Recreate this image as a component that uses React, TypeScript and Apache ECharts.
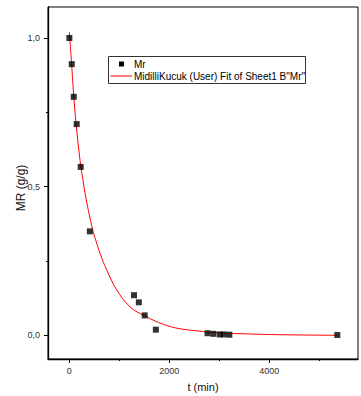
import React, { useEffect, useRef } from "react";
import * as echarts from "echarts";

// Measured data (t in min, MR in g/g)
const tMr = [0, 48, 88, 147, 227, 410, 1293, 1390, 1507, 1730, 2763, 2880, 3007, 3087, 3200, 5360];
const mrValues = [1.0, 0.912, 0.802, 0.71, 0.566, 0.349, 0.134, 0.11, 0.066, 0.018, 0.006, 0.004, 0.002, 0.002, 0.001, 0.0];

// Fit curve
const tFit = [0, 48, 90, 147, 227, 260, 333, 467, 527, 613, 747, 947, 1213, 1513, 1880, 2213, 2613, 2880, 3500, 4213, 5360];
const mrFit = [1.02, 0.905, 0.8, 0.69, 0.57, 0.535, 0.46, 0.354, 0.32, 0.275, 0.219, 0.152, 0.095, 0.064, 0.036, 0.021, 0.013, 0.008, 0.004, 0.001, -0.001];

const xMajor = [0, 2000, 4000];
const xMinor = [1000, 3000, 5000];
const yMajor = [0, 0.5, 1.0];
const yMinor = [0.25, 0.75];

const legendNames = ["Mr", 'MidilliKucuk (User) Fit of Sheet1 B"Mr"'];
const xTitle = "t (min)";
const yTitle = "MR (g/g)";

const FONT = "'Liberation Sans', Arial, sans-serif";

export default function App() {
  const ref = useRef<HTMLDivElement>(null);
  useEffect(() => {
    if (!ref.current) return;
    const chart = echarts.init(ref.current, null, { renderer: "svg" });
    const xMin = -427, xMax = 5773, yMin = -0.0808, yMax = 1.1044;
    const axisLineStyle = { color: "#000", width: 1.3 };
    chart.setOption({
      animation: false,
      backgroundColor: "#fff",
      textStyle: { fontFamily: FONT },
      grid: { left: 48, right: 3, top: 7, bottom: 37, show: true, borderColor: "#000", borderWidth: 1, outerBoundsMode: "none" },
      xAxis: [
        {
          type: "value", min: xMin, max: xMax, position: "bottom",
          axisLine: { show: true, onZero: false, lineStyle: axisLineStyle },
          axisTick: { show: true, customValues: xMajor, length: 4, lineStyle: { color: "#000", width: 1 } },
          axisLabel: { customValues: xMajor, formatter: (v: number) => String(v), fontSize: 9, color: "#333", margin: 7, fontFamily: FONT },
          splitLine: { show: false },
          name: xTitle, nameLocation: "middle", nameGap: 22,
          nameTextStyle: { fontSize: 11, color: "#111", fontFamily: FONT },
        },
        {
          type: "value", min: xMin, max: xMax, position: "bottom",
          axisLine: { show: false, onZero: false },
          axisTick: { show: true, customValues: xMinor, length: 2, lineStyle: { color: "#000", width: 1 } },
          axisLabel: { show: false },
          splitLine: { show: false },
        },
      ],
      yAxis: [
        {
          type: "value", min: yMin, max: yMax, position: "left",
          axisLine: { show: true, onZero: false, lineStyle: axisLineStyle },
          axisTick: { show: true, customValues: yMajor, length: 4, lineStyle: { color: "#000", width: 1 } },
          axisLabel: {
            customValues: yMajor,
            formatter: (v: number) => v.toFixed(1).replace(".", ","),
            fontSize: 9, color: "#333", margin: 8, fontFamily: FONT,
          },
          splitLine: { show: false },
        },
        {
          type: "value", min: yMin, max: yMax, position: "left",
          axisLine: { show: false, onZero: false },
          axisTick: { show: true, customValues: yMinor, length: 2, lineStyle: { color: "#000", width: 1 } },
          axisLabel: { show: false },
          splitLine: { show: false },
        },
      ],
      series: [
        {
          name: legendNames[1], type: "line", xAxisIndex: 0, yAxisIndex: 0,
          data: tFit.map((t, i) => [t, mrFit[i]]),
          smooth: 0.4, showSymbol: false, symbol: "none",
          lineStyle: { color: "#ff0000", width: 1 }, z: 2,
        },
        {
          name: legendNames[0], type: "scatter", xAxisIndex: 0, yAxisIndex: 0,
          data: tMr.map((t, i) => [t, mrValues[i]]),
          symbol: "rect", symbolSize: 6,
          itemStyle: { color: "#000" }, z: 3,
        },
      ],
      graphic: [
        {
          type: "text", x: 21, y: 188, rotation: Math.PI / 2,
          style: { text: yTitle, fontSize: 12, fill: "#111", fontFamily: FONT, align: "center", verticalAlign: "middle" },
        },
        {
          type: "group", left: 108, top: 56,
          children: [
            { type: "rect", shape: { x: 0, y: 0, width: 197, height: 27 }, style: { fill: "#fff", stroke: "#333", lineWidth: 1 } },
            { type: "rect", shape: { x: 10.5, y: 5, width: 5, height: 5 }, style: { fill: "#000" } },
            { type: "line", shape: { x1: 2, y1: 19.5, x2: 23.5, y2: 19.5 }, style: { stroke: "#ff0000", lineWidth: 1 } },
            { type: "text", x: 25.5, y: 7.5, style: { text: legendNames[0], fontSize: 10, fill: "#000", fontFamily: FONT, verticalAlign: "middle" } },
            { type: "text", x: 25.5, y: 19.5, style: { text: legendNames[1], fontSize: 10, fill: "#000", fontFamily: FONT, verticalAlign: "middle" } },
          ],
        },
      ],
    });
    return () => chart.dispose();
  }, []);
  return <div ref={ref} style={{ position: "fixed", left: 0, top: 0, width: 361, height: 396 }} />;
}
